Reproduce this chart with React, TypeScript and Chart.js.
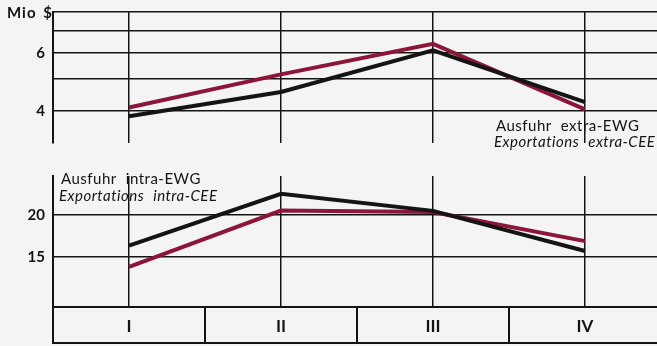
import React, { useEffect, useRef } from "react";
import { Chart, registerables } from "chart.js";
Chart.register(...registerables);

// ---- data ----
const categories = ["I", "II", "III", "IV"];
// upper panel (Ausfuhr extra-EWG), Mio $
const extraRed = [4.1, 5.17, 6.4, 4.05];
const extraBlack = [3.86, 4.57, 6.12, 4.26];
// lower panel (Ausfuhr intra-EWG), Mio $
const intraRed = [14.0, 20.6, 20.4, 16.7];
const intraBlack = [16.2, 23.1, 20.55, 15.6];
// axis ticks
const topGridTicks = [4, 5, 6, 7, 8];
const topTickLabels = [4, 6];
const bottomGridTicks = [15, 20];
const bottomTickLabels = [15, 20];

const INK = "#141414";
const RED = "#8c1638";
const BG = "#f4f4f4";
const FONT = "Lato, 'Open Sans', sans-serif";

const boxesPlugin = {
  id: "boxes",
  afterDraw(chart: any) {
    const x = chart.scales.x;
    const ca = chart.chartArea;
    const ctx = chart.ctx;
    const n = chart.data.labels.length;
    const step = x.getPixelForTick(1) - x.getPixelForTick(0);
    const y1 = ca.bottom + 1;
    const y2 = ca.bottom + 37;
    ctx.save();
    ctx.strokeStyle = INK;
    ctx.lineWidth = 2;
    ctx.beginPath();
    ctx.moveTo(ca.left, y1);
    ctx.lineTo(chart.width, y1);
    ctx.moveTo(ca.left, y2);
    ctx.lineTo(chart.width, y2);
    ctx.moveTo(ca.left, ca.bottom);
    ctx.lineTo(ca.left, y2 + 1);
    for (let i = 0; i < n - 1; i++) {
      const bx = Math.round(x.getPixelForTick(i) + step / 2);
      ctx.moveTo(bx, y1);
      ctx.lineTo(bx, y2);
    }
    ctx.stroke();
    ctx.restore();
  },
};

function makeConfig(
  red: number[],
  black: number[],
  min: number,
  max: number,
  gridTicks: number[],
  tickLabels: number[],
  padding: any,
  showX: boolean,
  plugins: any[]
): any {
  return {
    type: "line",
    data: {
      labels: categories,
      datasets: [
        {
          data: black,
          borderColor: INK,
          borderWidth: 4,
          pointRadius: 0,
          tension: 0,
          fill: false,
        },
        {
          data: red,
          borderColor: RED,
          borderWidth: 4,
          pointRadius: 0,
          tension: 0,
          fill: false,
        },
      ],
    },
    plugins,
    options: {
      responsive: false,
      animation: false,
      devicePixelRatio: 1,
      layout: { padding },
      plugins: { legend: { display: false }, tooltip: { enabled: false } },
      scales: {
        x: {
          type: "category",
          offset: true,
          position: "bottom",
          grid: { offset: false, color: INK, lineWidth: 1.5, drawTicks: false },
          border: { display: false },
          ticks: {
            display: showX,
            padding: 10,
            color: INK,
            font: { family: FONT, size: 17, weight: "bold" },
          },
          afterFit: (a: any) => {
            a.height = showX ? 40 : 0;
            a.paddingLeft = 0;
            a.paddingRight = 0;
          },
        },
        y: {
          type: "logarithmic",
          min,
          max,
          afterBuildTicks: (a: any) => {
            a.ticks = gridTicks.map((v) => ({ value: v }));
          },
          ticks: {
            autoSkip: false,
            padding: 8,
            color: INK,
            font: { family: FONT, size: 15, weight: "bold" },
            callback: (v: any) => (tickLabels.includes(Number(v)) ? String(v) : ""),
          },
          grid: { color: INK, lineWidth: 1.5, drawTicks: false },
          border: { display: true, color: INK, width: 2 },
          afterFit: (a: any) => {
            a.width = 53;
            a.paddingTop = 0;
            a.paddingBottom = 0;
          },
        },
      },
    },
  };
}

export default function App() {
  const topRef = useRef<HTMLCanvasElement>(null);
  const botRef = useRef<HTMLCanvasElement>(null);

  useEffect(() => {
    const top = new Chart(
      topRef.current as HTMLCanvasElement,
      makeConfig(extraRed, extraBlack, 3.2, 8, topGridTicks, topTickLabels,
        { left: 0, top: 12, right: 9, bottom: 7 }, false, [])
    );
    const bot = new Chart(
      botRef.current as HTMLCanvasElement,
      makeConfig(intraRed, intraBlack, 10.7, 26.1, bottomGridTicks, bottomTickLabels,
        { left: 0, top: 26, right: 9, bottom: 0 }, true, [boxesPlugin])
    );
    return () => {
      top.destroy();
      bot.destroy();
    };
  }, []);

  const textBase: React.CSSProperties = {
    position: "absolute",
    fontFamily: FONT,
    fontSize: 15,
    lineHeight: "18px",
    color: INK,
    whiteSpace: "nowrap",
    letterSpacing: 0.5,
    wordSpacing: 5,
  };

  return (
    <div
      style={{
        position: "fixed",
        left: 0,
        top: 0,
        width: 657,
        height: 346,
        overflow: "hidden",
        background: BG,
      }}
    >
      <canvas ref={topRef} width={670} height={150}
        style={{ position: "absolute", left: 0, top: 0 }} />
      <canvas ref={botRef} width={670} height={196}
        style={{ position: "absolute", left: 0, top: 150 }} />
      <div style={{ ...textBase, left: 7, top: 3, fontWeight: "bold", letterSpacing: 1, wordSpacing: 2 }}>Mio $</div>
      <div style={{ ...textBase, left: 496, top: 116 }}>Ausfuhr extra-EWG</div>
      <div style={{ ...textBase, left: 494, top: 132, fontStyle: "italic" }}>Exportations extra-CEE</div>
      <div style={{ ...textBase, left: 61, top: 169 }}>Ausfuhr intra-EWG</div>
      <div style={{ ...textBase, left: 59, top: 186, fontStyle: "italic" }}>Exportations intra-CEE</div>
    </div>
  );
}
